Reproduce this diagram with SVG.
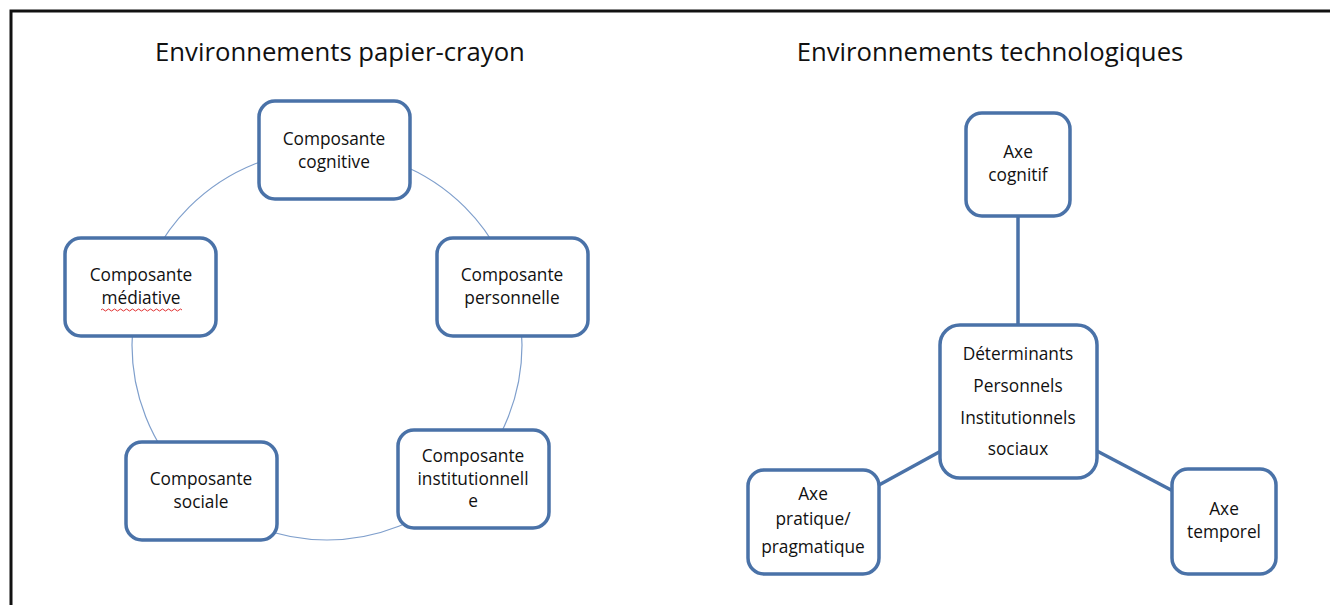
<svg xmlns="http://www.w3.org/2000/svg" width="1330" height="605" viewBox="0 0 1330 605">
<style>
.box{fill:#fff;stroke:#4a72a8;stroke-width:3.5}
.t{font-family:"Open Sans","Liberation Sans",sans-serif;font-size:17.3px;fill:#111;text-anchor:middle}
.title{font-family:"Open Sans","Liberation Sans",sans-serif;font-size:25.7px;fill:#111;text-anchor:middle}
.ring{fill:none;stroke:#7f9fcc;stroke-width:1.2}
.con{stroke:#4a72a8;stroke-width:3.5;fill:none}
</style>
<rect x="0" y="0" width="1330" height="605" fill="#fff"/>
<path d="M11,620 V11 H1340" fill="none" stroke="#111" stroke-width="3"/>
<text class="title" x="340" y="61">Environnements papier-crayon</text>
<text class="title" x="990" y="61">Environnements technologiques</text>
<g id="connectors">
<circle class="ring" cx="327" cy="345" r="195"/>
<line class="con" x1="1018" y1="216" x2="1018" y2="325"/>
<line class="con" x1="879" y1="485" x2="941" y2="451"/>
<line class="con" x1="1097" y1="451" x2="1173" y2="491"/>
</g>
<g id="cognitive"><rect class="box" x="259" y="101" width="151" height="98" rx="16"/><text class="t" x="334" y="145">Composante</text><text class="t" x="334" y="168">cognitive</text></g>
<g id="personnelle"><rect class="box" x="437" y="238" width="151" height="98" rx="16"/><text class="t" x="512" y="281">Composante</text><text class="t" x="512" y="304">personnelle</text></g>
<g id="institutionnelle"><rect class="box" x="398" y="430" width="151" height="98" rx="16"/><text class="t" x="473" y="462">Composante</text><text class="t" x="473" y="485">institutionnell</text><text class="t" x="473" y="507">e</text></g>
<g id="sociale"><rect class="box" x="126" y="442" width="151" height="98" rx="16"/><text class="t" x="201" y="485">Composante</text><text class="t" x="201" y="508">sociale</text></g>
<g id="mediative"><rect class="box" x="65" y="238" width="151" height="98" rx="16"/><text class="t" x="141" y="281">Composante</text><text class="t" x="141" y="304">médiative</text>
<path d="M101,310 q1.5,-2 3,0 t3,0 t3,0 t3,0 t3,0 t3,0 t3,0 t3,0 t3,0 t3,0 t3,0 t3,0 t3,0 t3,0 t3,0 t3,0 t3,0 t3,0 t3,0 t3,0 t3,0 t3,0 t3,0 t3,0 t3,0 t3,0 t3,0" fill="none" stroke="#e03030" stroke-width="1"/></g>
<g id="axe-cognitif"><rect class="box" x="966" y="113" width="104" height="103" rx="16"/><text class="t" x="1018" y="158">Axe</text><text class="t" x="1018" y="181">cognitif</text></g>
<g id="determinants"><rect class="box" x="940" y="325" width="157" height="153" rx="20"/><text class="t" x="1018" y="360">Déterminants</text><text class="t" x="1018" y="392">Personnels</text><text class="t" x="1018" y="424">Institutionnels</text><text class="t" x="1018" y="455">sociaux</text></g>
<g id="axe-pratique"><rect class="box" x="748" y="470" width="131" height="104" rx="16"/><text class="t" x="813" y="500">Axe</text><text class="t" x="813" y="525">pratique/</text><text class="t" x="813" y="553">pragmatique</text></g>
<g id="axe-temporel"><rect class="box" x="1172" y="469" width="104" height="105" rx="16"/><text class="t" x="1224" y="515">Axe</text><text class="t" x="1224" y="538">temporel</text></g>
</svg>
